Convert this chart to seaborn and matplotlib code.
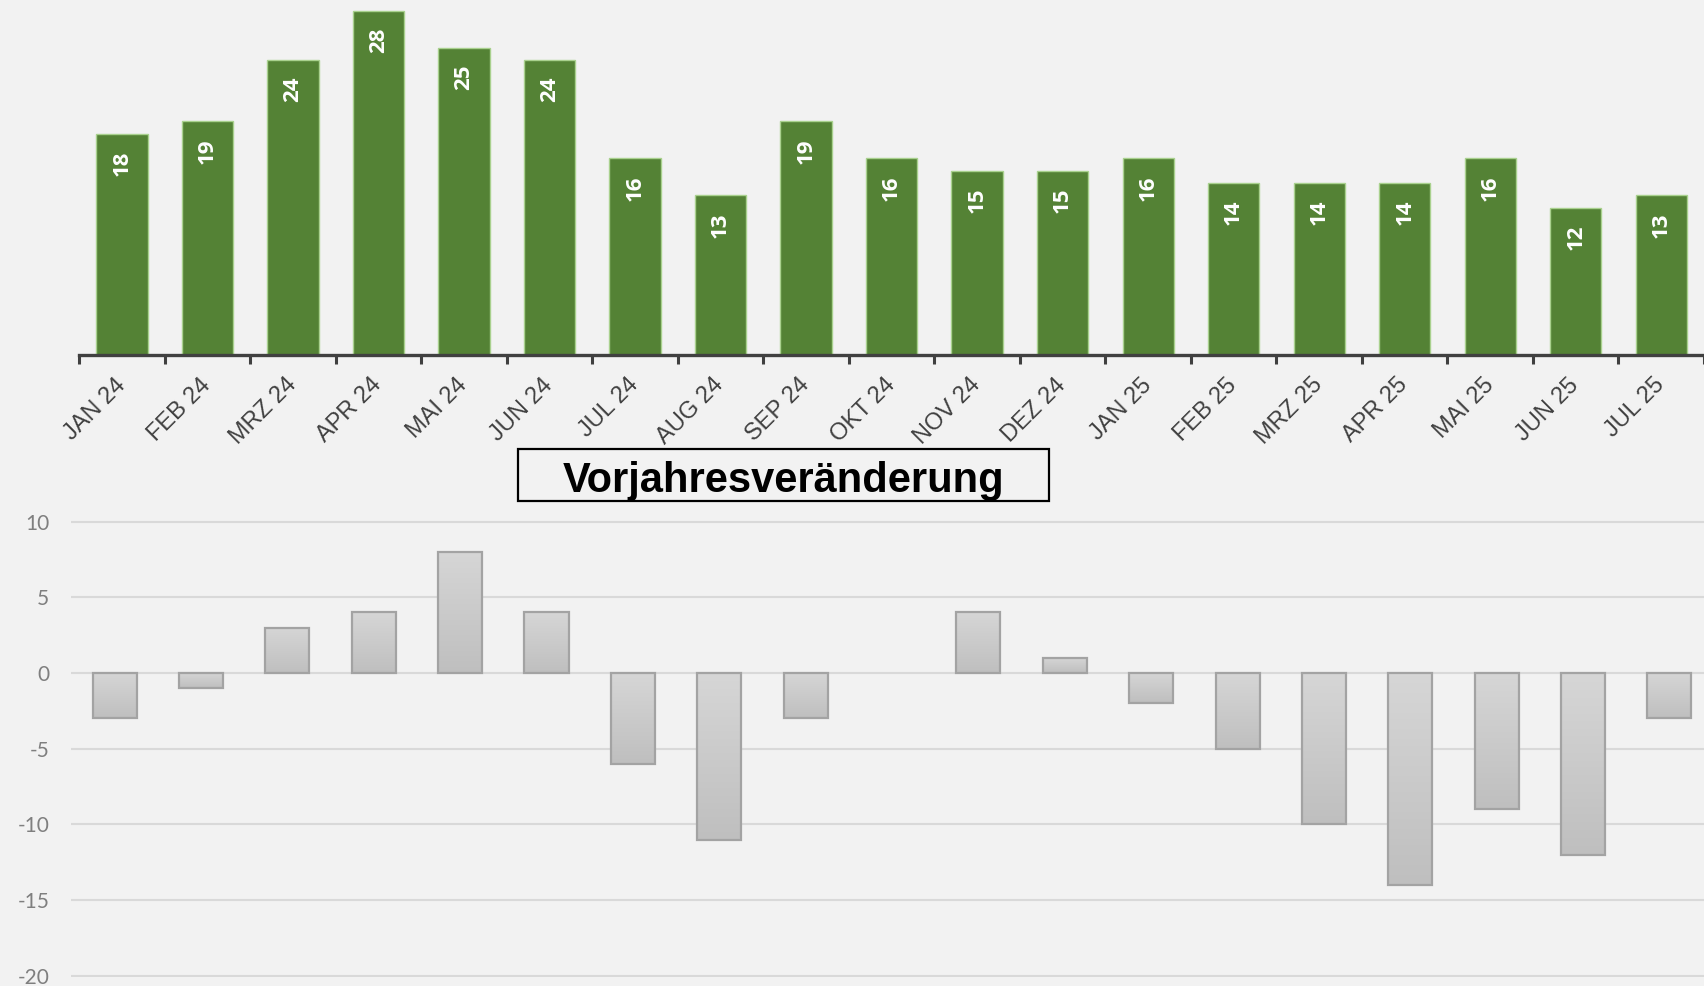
import numpy as np
import pandas as pd
import matplotlib.pyplot as plt
import seaborn as sns
from matplotlib.patches import Rectangle
from matplotlib.colors import LinearSegmentedColormap

# data
months = ["JAN 24", "FEB 24", "MRZ 24", "APR 24", "MAI 24", "JUN 24", "JUL 24",
          "AUG 24", "SEP 24", "OKT 24", "NOV 24", "DEZ 24", "JAN 25", "FEB 25",
          "MRZ 25", "APR 25", "MAI 25", "JUN 25", "JUL 25"]
counts = [18, 19, 24, 28, 25, 24, 16, 13, 19, 16, 15, 15, 16, 14, 14, 14, 16, 12, 13]
change = [-3, -1, 3, 4, 8, 4, -6, -11, -3, 0, 4, 1, -2, -5, -10, -14, -9, -12, -3]
change_ticks = [10, 5, 0, -5, -10, -15, -20]
title = "Vorjahresveränderung"

bg = "#f2f2f2"
sns.set_style("white", rc={"axes.facecolor": bg, "figure.facecolor": bg})
plt.rcParams["font.family"] = ["Liberation Sans", "DejaVu Sans"]
plt.rcParams["axes.unicode_minus"] = False

df = pd.DataFrame({"Monat": months, "Anzahl": counts, "Veraenderung": change})

fig = plt.figure(figsize=(17.04, 9.86), dpi=100)
ax1 = fig.add_axes([0.0465, 0.6396, 0.9535, 0.3604])
ax2 = fig.add_axes([0.0419, 0.00882, 0.9581, 0.4637])

# top: monthly counts
sns.barplot(data=df, x="Monat", y="Anzahl", color="#548235", saturation=1,
            width=0.6, edgecolor="#a9d18e", linewidth=1, ax=ax1)
ax1.set_xlim(-0.5, 18.33)
ax1.set_ylim(0, 28.87)
ax1.set_xlabel("")
ax1.set_ylabel("")
ax1.set_yticks([])
for s in ["left", "top", "right"]:
    ax1.spines[s].set_visible(False)
ax1.spines["bottom"].set_color("#404040")
ax1.spines["bottom"].set_linewidth(2.4)
ax1.set_xticks(np.arange(-0.5, 19, 1), minor=True)
ax1.tick_params(axis="x", which="both", bottom=True)
ax1.tick_params(axis="x", which="minor", length=6.5, width=2.2, color="#404040", direction="out")
ax1.tick_params(axis="x", which="major", length=0, pad=19, labelsize=17, labelcolor="#404040")
ax1.set_xticks(range(len(months)))
ax1.set_xticklabels(months, rotation=45, ha="right", va="center",
                    rotation_mode="anchor", family="Liberation Sans",
                    fontsize=17, color="#404040")

for i, v in enumerate(counts):
    ax1.annotate(str(v), (i, v), xytext=(0, -12), textcoords="offset points",
                 rotation=90, ha="center", va="top", color="white",
                 fontsize=16, fontweight="bold", family=["Open Sans", "DejaVu Sans"])

# bottom: change vs previous year
sns.barplot(data=df, x="Monat", y="Veraenderung", color="#c9c9c9", saturation=1,
            width=0.51, edgecolor="#a3a3a3", linewidth=1.6, ax=ax2)
grey_grad = LinearSegmentedColormap.from_list("grey_grad", ["#d6d6d6", "#bfbfbf"])
grad = np.linspace(0, 1, 64).reshape(-1, 1)
for p in list(ax2.patches):
    if p.get_height() == 0:
        p.set_linewidth(0)
        continue
    x0, y0 = p.get_x(), p.get_y()
    x1, y1 = x0 + p.get_width(), y0 + p.get_height()
    im = ax2.imshow(grad, extent=[x0, x1, min(y0, y1), max(y0, y1)], origin="upper",
                    cmap=grey_grad, aspect="auto", zorder=p.get_zorder() - 0.01)
    im.set_clip_path(p)
    p.set_facecolor("none")
ax2.set_axisbelow(True)
ax2.set_xlim(-0.5, 18.4)
ax2.set_ylim(-20.1, 10.1)
ax2.set_xticks([])
ax2.set_xlabel("")
ax2.set_ylabel("")
ax2.grid(axis="y", color="#d9d9d9", linewidth=1.5)
for s in ax2.spines.values():
    s.set_visible(False)
ax2.tick_params(axis="y", length=0, pad=16)
ax2.set_yticks(change_ticks)
ax2.set_yticklabels([str(t) for t in change_ticks], family="Lato",
                    fontsize=15, color="#7f7f7f")

# boxed heading between the two charts
fig.add_artist(Rectangle((518 / 1704, 1 - 501 / 986), 531 / 1704, 52 / 986,
                         transform=fig.transFigure, fill=False,
                         edgecolor="black", linewidth=1.6))
fig.text(783.5 / 1704, 1 - 492 / 986, title, ha="center", va="baseline",
         fontsize=30, fontweight="bold", color="black", family="Liberation Sans")

fig.savefig("out.png", dpi=100, facecolor=fig.get_facecolor())
